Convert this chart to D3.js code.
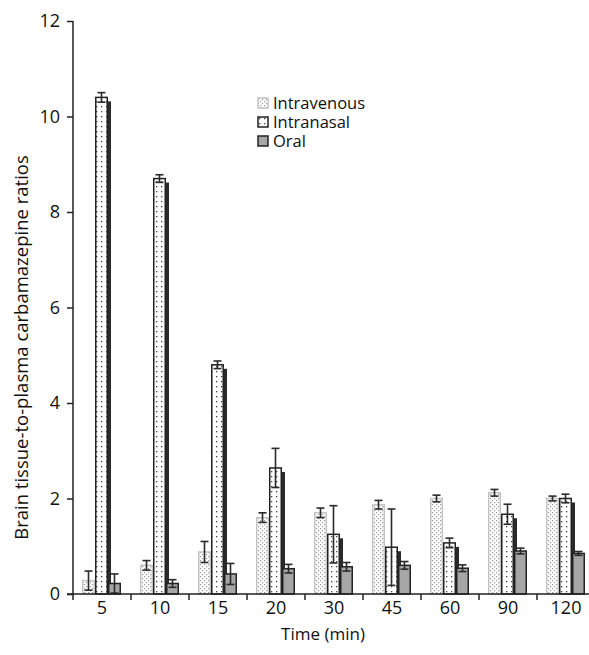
<!DOCTYPE html>
<html>
<head>
<meta charset="utf-8">
<script src="https://cdn.jsdelivr.net/npm/d3@7"></script>
<style>
  body { margin: 0; background: #fff; }
  svg { display: block; font-family: "Open Sans", "Noto Sans", sans-serif; }
</style>
</head>
<body>
<svg id="chart"></svg>
<script>
const categories = ["5", "10", "15", "20", "30", "45", "60", "90", "120"]
const seriesNames = ["Intravenous", "Intranasal", "Oral"]
const intravenous = [0.28, 0.6, 0.88, 1.6, 1.7, 1.87, 2.0, 2.12, 2.0]
const intravenousErr = [0.2, 0.1, 0.22, 0.1, 0.1, 0.09, 0.07, 0.07, 0.05]
const intranasal = [10.4, 8.7, 4.8, 2.64, 1.25, 0.98, 1.07, 1.67, 2.0]
const intranasalErr = [0.1, 0.08, 0.08, 0.41, 0.6, 0.8, 0.1, 0.21, 0.09]
const oral = [0.22, 0.22, 0.42, 0.53, 0.57, 0.6, 0.54, 0.9, 0.85]
const oralErr = [0.2, 0.08, 0.22, 0.09, 0.09, 0.08, 0.07, 0.06, 0.04]
const yTicks = [0, 2, 4, 6, 8, 10, 12]

const width = 589, height = 655
const margin = { top: 21, right: -6, bottom: 61, left: 73 }
const barW = 13

const svg = d3.select("#chart").attr("width", width).attr("height", height)
const defs = svg.append("defs")

// dotted fill for intravenous (fine grey dots)
const pIv = defs.append("pattern").attr("id", "dotsIv")
  .attr("patternUnits", "userSpaceOnUse").attr("width", 4).attr("height", 4)
pIv.append("rect").attr("width", 4).attr("height", 4).attr("fill", "#fff")
pIv.append("rect").attr("x", 0).attr("y", 0).attr("width", 1.2).attr("height", 1.2).attr("fill", "#999")
pIv.append("rect").attr("x", 2).attr("y", 2).attr("width", 1.2).attr("height", 1.2).attr("fill", "#999")

// sparse dots for intranasal
const pIn = defs.append("pattern").attr("id", "dotsIn")
  .attr("patternUnits", "userSpaceOnUse").attr("width", 5).attr("height", 5)
pIn.append("rect").attr("width", 5).attr("height", 5).attr("fill", "#fff")
pIn.append("rect").attr("x", 1).attr("y", 1).attr("width", 1.3).attr("height", 1.3).attr("fill", "#444")

const x = d3.scaleBand().domain(categories)
  .range([margin.left, width - margin.right]).padding(0)
const y = d3.scaleLinear().domain([0, 12])
  .range([height - margin.bottom, margin.top])

const styles = [
  { fill: "url(#dotsIv)", stroke: "#c4c4c4", shadow: false },
  { fill: "url(#dotsIn)", stroke: "#222", shadow: true },
  { fill: "#a6a6a6", stroke: "#222", shadow: false }
]
const values = [intravenous, intranasal, oral]
const errs = [intravenousErr, intranasalErr, oralErr]

const bars = []
categories.forEach((c, i) => {
  values.forEach((vals, s) => {
    bars.push({ cat: c, s: s, v: vals[i], e: errs[s][i] })
  })
})

const bx = d => x(d.cat) + x.bandwidth() / 2 - 1.5 * barW + d.s * barW - 0.5

// shadow behind intranasal bars
svg.append("g").selectAll("rect")
  .data(bars.filter(d => styles[d.s].shadow))
  .join("rect")
  .attr("x", d => bx(d) + barW)
  .attr("y", d => y(d.v) + 4)
  .attr("width", 3)
  .attr("height", d => y(0) - y(d.v) - 4)
  .attr("fill", "#2a2a2a")

svg.append("g").selectAll("rect")
  .data(bars)
  .join("rect")
  .attr("x", d => bx(d) + 0.75)
  .attr("y", d => y(d.v))
  .attr("width", barW - 1.5)
  .attr("height", d => y(0) - y(d.v))
  .attr("fill", d => styles[d.s].fill)
  .attr("stroke", d => styles[d.s].stroke)
  .attr("stroke-width", 1.5)

// error bars
const eb = svg.append("g").attr("stroke", "#2a2a2a").attr("stroke-width", 1.6).attr("fill", "none")
bars.forEach(d => {
  const cx = bx(d) + barW / 2
  const y1 = y(d.v + d.e), y2 = y(Math.max(0, d.v - d.e))
  eb.append("line").attr("x1", cx).attr("x2", cx).attr("y1", y1).attr("y2", y2)
  eb.append("line").attr("x1", cx - 4).attr("x2", cx + 4).attr("y1", y1).attr("y2", y1)
  eb.append("line").attr("x1", cx - 4).attr("x2", cx + 4).attr("y1", y2).attr("y2", y2)
})

// axes
const yAxis = svg.append("g")
  .attr("transform", `translate(${margin.left},0)`)
  .call(d3.axisLeft(y).tickValues(yTicks).tickSize(6).tickPadding(7))
yAxis.select(".domain").attr("d", `M0,${y(12)}V${y(0)}`)

const xAxis = svg.append("g")
  .attr("transform", `translate(0,${y(0)})`)
  .call(d3.axisBottom(x).tickSize(0).tickPadding(7))
xAxis.select(".domain").attr("d", `M${margin.left - 6},0H${width + 10}`)
// ticks between groups
xAxis.selectAll(".sep").data(categories).join("line")
  .attr("class", "sep")
  .attr("x1", d => x(d)).attr("x2", d => x(d))
  .attr("y1", 0).attr("y2", 6)
  .attr("stroke", "#222")

svg.selectAll(".domain, .tick line").attr("stroke", "#222").attr("stroke-width", 1.5)
svg.selectAll(".sep").attr("stroke-width", 1.5)
svg.selectAll(".tick text").attr("font-size", 18).attr("fill", "#111")
  .attr("font-family", "'Open Sans', sans-serif")

// titles
svg.append("text")
  .attr("x", 323).attr("y", 640)
  .attr("text-anchor", "middle").attr("font-size", 17).attr("fill", "#111")
  .text("Time (min)")

svg.append("text")
  .attr("transform", `translate(28,${(margin.top + y(0)) / 2 + 40}) rotate(-90)`)
  .attr("text-anchor", "middle").attr("font-size", 18.5).attr("fill", "#111")
  .text("Brain tissue-to-plasma carbamazepine ratios")

// legend
const legend = svg.append("g").attr("transform", "translate(258,103)")
seriesNames.forEach((name, i) => {
  const g = legend.append("g").attr("transform", `translate(0,${i * 19})`)
  g.append("rect").attr("x", 0).attr("y", -5).attr("width", 10).attr("height", 10)
    .attr("fill", styles[i].fill).attr("stroke", styles[i].stroke).attr("stroke-width", 1.5)
  g.append("text").attr("x", 15).attr("y", 0).attr("dy", "0.35em")
    .attr("font-size", 16.5).attr("fill", "#111").text(name)
})
</script>
</body>
</html>
